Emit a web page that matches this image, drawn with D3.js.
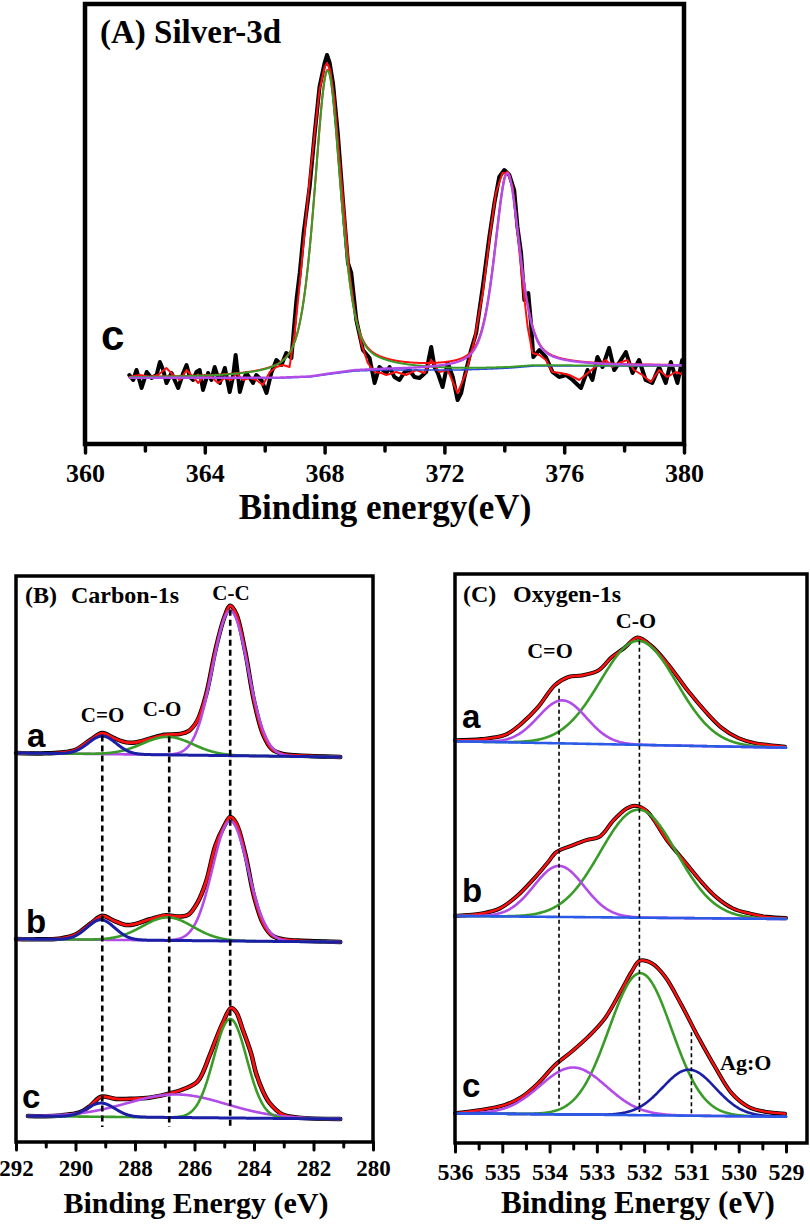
<!DOCTYPE html>
<html><head><meta charset="utf-8">
<script src="https://cdn.jsdelivr.net/npm/d3@7"></script>
<style>body{margin:0;background:#fff}svg{display:block}</style>
</head><body>
<svg id="chart" width="810" height="1224"></svg>
<script>
// ================= DATA =================
// Panel A : Silver-3d (sample c)
const ticksA = [360, 364, 368, 372, 376, 380];
const minorTicksA = [362, 366, 370, 374, 378];
// measured spectrum [binding energy, intensity a.u.]
const blackA = [[361.48,5],[361.61,0],[361.72,10],[361.89,-8],[362.06,8],[362.22,2],[362.39,5],[362.5,18],[362.61,10],[362.72,-3],[362.89,7],[363.11,-8],[363.28,7],[363.39,15],[363.5,3],[363.61,0],[363.72,8],[363.83,10],[363.94,-10],[364.11,7],[364.22,0],[364.33,13],[364.5,-3],[364.67,12],[364.83,-12],[364.94,3],[365.03,25],[365.17,-12],[365.28,0],[365.39,7],[365.5,2],[365.61,-3],[365.72,5],[365.89,0],[366.06,-13],[366.22,7],[366.39,20],[366.56,15],[366.72,27],[366.89,22],[367.06,80],[367.17,107],[367.3,147],[367.5,193],[367.67,247],[367.83,293],[368.0,317],[368.08,325],[368.17,317],[368.28,297],[368.44,247],[368.61,180],[368.78,117],[368.89,107],[369.06,60],[369.28,30],[369.5,22],[369.67,-3],[369.83,13],[370.06,7],[370.17,13],[370.33,3],[370.5,0],[370.67,8],[370.83,10],[371.0,3],[371.17,2],[371.39,8],[371.56,33],[371.67,13],[371.78,7],[371.94,-7],[372.11,17],[372.28,3],[372.44,-20],[372.56,-13],[372.67,3],[372.89,30],[373.06,47],[373.28,93],[373.5,143],[373.67,177],[373.83,203],[374.0,210],[374.17,205],[374.33,190],[374.44,153],[374.56,127],[374.67,80],[374.8,87],[374.89,57],[374.97,23],[375.17,30],[375.39,23],[375.61,8],[375.83,3],[376.06,5],[376.28,0],[376.56,-8],[376.78,10],[376.94,0],[377.11,23],[377.28,13],[377.5,32],[377.67,10],[377.83,17],[378.06,28],[378.28,7],[378.5,20],[378.72,0],[378.94,-3],[379.17,13],[379.39,-3],[379.56,18],[379.78,-3],[379.94,20]];
// smoothed spectrum (red)
const redA = [[361.48,3],[361.83,5],[362.17,3],[362.44,5],[362.72,12],[362.94,5],[363.17,0],[363.39,10],[363.61,3],[363.78,-3],[364.0,5],[364.22,3],[364.44,-3],[364.67,2],[364.89,0],[365.06,7],[365.28,0],[365.5,2],[365.72,0],[365.94,-5],[366.17,8],[366.39,13],[366.61,15],[366.83,13],[367.0,47],[367.17,97],[367.33,147],[367.5,200],[367.67,247],[367.83,290],[368.0,313],[368.08,317],[368.19,310],[368.33,280],[368.5,220],[368.67,163],[368.83,107],[369.0,70],[369.22,37],[369.44,17],[369.67,8],[369.89,7],[370.06,5],[370.39,8],[370.72,5],[371.06,10],[371.33,7],[371.56,20],[371.83,8],[372.11,10],[372.44,-13],[372.72,7],[373.0,40],[373.28,87],[373.5,140],[373.72,187],[373.94,207],[374.11,207],[374.28,193],[374.44,147],[374.61,97],[374.78,53],[374.94,27],[375.17,25],[375.39,20],[375.61,8],[375.89,7],[376.17,5],[376.5,0],[376.83,8],[377.11,15],[377.39,20],[377.61,13],[377.83,17],[378.11,20],[378.33,10],[378.61,5],[378.89,-2],[379.17,10],[379.44,3],[379.72,8],[380.0,5]];
// Shirley background (blue)
const bgA_E = [361.5, 366.5, 367.5, 368.2, 369.0, 370.0, 372.5, 373.5, 374.2, 375.0, 380.0];
const bgA_I = [2, 2, 3, 6, 9, 10, 10, 11, 12, 14, 14];
// fitted peaks (pseudo-Voigt): centre, height, FWHM
const peaksA = [
  {name: "Ag 3d5/2", c: 368.1, h: 304, w: 1.05, color: "green"},
  {name: "Ag 3d3/2", c: 374.1, h: 195, w: 1.0, color: "purple"}
];
const etaA = 0.5;

// Panel B : Carbon-1s
const ticksB = [292, 290, 288, 286, 284, 282, 280];
const minorTicksB = [291, 289, 287, 285, 283, 281];
const samplesB = ["a", "b", "c"];
const rangeB = [[292, 281.1], [292, 281.1], [291.6, 281.1]];
const baselineB = [[389, 385], [203, 200], [26, 23]];
const peaksB = [
  [{c: 284.8, h: 145, w: 1.4, color: "purple"}, {c: 286.9, h: 18, w: 2.0, color: "green"}, {c: 289.1, h: 18, w: 1.1, color: "navy"}],
  [{c: 284.8, h: 120, w: 1.4, color: "purple"}, {c: 286.9, h: 23, w: 2.0, color: "green"}, {c: 289.15, h: 20, w: 1.1, color: "navy"}],
  [{c: 286.6, h: 23, w: 3.9, color: "purple"}, {c: 284.8, h: 99, w: 1.3, color: "green"}, {c: 289.14, h: 13.7, w: 1.1, color: "navy"}]
];
// measured spectra (black); the fit envelope (red) overlaps them
const blackB = [
  [[292,0],[291,0],[290.5,1],[290,4],[289.5,14],[289.1,21],[288.7,16],[288.3,12],[288,12],[287.5,16],[287,20],[286.5,21],[286.2,24],[285.9,35],[285.6,62],[285.3,105],[285,138],[284.8,150],[284.6,142],[284.3,105],[284,55],[283.7,22],[283.4,7],[283,2],[282.5,1],[281.1,0]],
  [[292,0],[291,0],[290.5,1],[290,5],[289.5,16],[289.1,24],[288.7,19],[288.3,15],[288,16],[287.5,21],[287,25],[286.5,24],[286.2,26],[285.9,38],[285.6,60],[285.3,95],[285,115],[284.8,124],[284.6,118],[284.3,88],[284,45],[283.7,18],[283.4,6],[283,2],[282.5,1],[281.1,0]],
  [[291.6,0],[291,0],[290.5,1],[290,3],[289.76,5.5],[289.5,11],[289.14,20],[288.64,18],[288.08,18.3],[287.52,19.5],[286.96,23],[286.4,28],[285.89,36.5],[285.5,61.6],[285.3,77],[285.05,95],[284.77,110],[284.6,106],[284.38,88.6],[284.1,65],[283.93,45],[283.7,27],[283.48,15.5],[283.04,4],[282.5,1],[281.1,0]]
];
const dashB = [289.1, 286.85, 284.8];
const dashBottomB = 15;

// Panel C : Oxygen-1s
const ticksC = [536, 535, 534, 533, 532, 531, 530, 529];
const minorTicksC = [535.5, 534.5, 533.5, 532.5, 531.5, 530.5, 529.5];
const samplesC = ["a", "b", "c"];
const rangeC = [536, 529];
const baselineC = [[401.7, 395.3], [227, 224], [29.7, 26.3]];
const peaksC = [
  [{c: 532.12, h: 104, w: 1.9, color: "green"}, {c: 533.73, h: 43, w: 1.2, color: "purple"}],
  [{c: 532.12, h: 108, w: 1.9, color: "green"}, {c: 533.8, h: 51, w: 1.25, color: "purple"}],
  [{c: 532.08, h: 142, w: 1.56, color: "green"}, {c: 533.5, h: 47, w: 1.65, color: "purple"}, {c: 531.05, h: 46, w: 1.32, color: "navy"}]
];
const blackC = [
  [[536,1],[535.44,2.7],[534.94,7.3],[534.59,19.2],[534.24,36],[533.89,58],[533.6,66.5],[533.32,68.3],[532.97,73.5],[532.69,87],[532.41,97],[532.14,107.4],[531.84,99],[531.49,81],[531.07,54.7],[530.71,35],[530.36,18.6],[530.01,8.8],[529.66,4],[529.02,1]],
  [[536,0],[535.4,3],[535.05,8],[534.7,20],[534.35,37],[534.06,53],[533.85,65],[533.5,72],[533.22,77],[532.93,81],[532.65,97],[532.37,109],[532.2,112],[531.95,107],[531.52,78],[531.17,58],[530.82,38],[530.47,21],[530.12,10],[529.76,5],[529.41,2],[529,1]],
  [[536,0],[535.3,5],[534.94,9],[534.59,17],[534.24,31],[533.89,49],[533.53,63],[533.18,78],[532.83,96.5],[532.48,125],[532.27,143],[532.09,154.5],[531.84,152],[531.56,139],[531.21,110.6],[530.86,79],[530.5,49],[530.15,23],[529.8,9.6],[529.45,4.8],[529.02,3]]
];
const dashC = [533.8, 532.1, 531.0];
const dashFromC = [0, 0, 2];          // spectrum whose envelope sets the top
const dashBottomC = [36, 31, 27];

// ================= DRAWING =================
const SERIF = '"Liberation Serif","Times New Roman",serif';
const SANS = '"Liberation Sans",Arial,sans-serif';
const COL = {black: "#000", red: "#ff1010", green: "#3a9c28", purple: "#b24ce8", navy: "#1a1fa6", blue: "#2b5ae6", blueA: "#2a4ed8"};
const svg = d3.select("#chart");

function pv(E, p, eta) {
  const t = (E - p.c) / p.w;
  return p.h * (eta / (1 + 4 * t * t) + (1 - eta) * Math.exp(-4 * Math.LN2 * t * t));
}
function grid(a, b, step) {
  const n = Math.max(1, Math.round(Math.abs(b - a) / step));
  return d3.range(n + 1).map(i => a + (b - a) * i / n);
}
function path(data, x, y, color, width, curve) {
  return svg.append("path").datum(data)
    .attr("fill", "none").attr("stroke", color).attr("stroke-width", width)
    .attr("stroke-linejoin", "round").attr("stroke-linecap", "round")
    .attr("d", d3.line().x(d => x(d[0])).y(d => y(d[1])).curve(curve || d3.curveLinear));
}
function drawAxis(yPos, scale, major, minor, o) {
  const gMin = svg.append("g").attr("transform", `translate(0,${yPos})`)
    .call(d3.axisBottom(scale).tickValues(minor).tickSize(o.minorLen).tickFormat(""));
  gMin.select(".domain").remove();
  gMin.selectAll("line").attr("stroke", "#000").attr("stroke-width", o.sw).attr("stroke-linecap", "round");
  const gMaj = svg.append("g").attr("transform", `translate(0,${yPos})`)
    .call(d3.axisBottom(scale).tickValues(major).tickSize(o.majorLen).tickFormat(d3.format("d")));
  gMaj.select(".domain").remove();
  gMaj.selectAll("line").attr("stroke", "#000").attr("stroke-width", o.sw).attr("stroke-linecap", "round");
  gMaj.selectAll("text").attr("y", o.labelY).attr("dy", null)
    .attr("font-size", o.fs).attr("font-family", SERIF).attr("font-weight", "bold").attr("fill", "#000");
}
function text(str, x, y, size, family, anchor) {
  return svg.append("text").attr("x", x).attr("y", y).attr("font-size", size)
    .attr("font-family", family).attr("font-weight", "bold").attr("fill", "#000")
    .attr("text-anchor", anchor || "start").text(str);
}
function frame(x, y, sw, xr) {
  svg.append("rect").attr("x", x.range()[0]).attr("y", y.range()[1])
    .attr("width", (xr || x.range()[1]) - x.range()[0]).attr("height", y.range()[0] - y.range()[1])
    .attr("fill", "none").attr("stroke", "#000").attr("stroke-width", sw);
}

// ---------- Panel A ----------
{
  const x = d3.scaleLinear().domain([360, 380]).range([85, 684]);
  const y = d3.scaleLinear().domain([-64, 376]).range([444, 4]);
  const bg = d3.scaleLinear().domain(bgA_E).range(bgA_I).clamp(true);
  const E = grid(361.5, 380, 0.02);
  path(blackA, x, y, COL.black, 4);
  path(redA, x, y, COL.red, 2);
  path(E.map(e => [e, bg(e) + d3.sum(peaksA, p => pv(e, p, etaA))]), x, y, COL.red, 2, d3.curveBasis);
  path(E.map(e => [e, bg(e)]), x, y, COL.blueA, 1.6, d3.curveBasis);
  peaksA.forEach(p => path(E.map(e => [e, bg(e) + pv(e, p, etaA)]), x, y, COL[p.color], p.color === "purple" ? 2.4 : 2, d3.curveBasis));
  frame(x, y, 4.5);
  drawAxis(444, x, ticksA, minorTicksA, {majorLen: 9, minorLen: 7, sw: 3.5, labelY: 38, fs: 26});
  text("(A) Silver-3d", 100, 43, 33, SERIF);
  text("c", 101, 350, 42, SANS);
  text("Binding energy(eV)", 385, 519, 35, SERIF, "middle");
}

// ---------- Panel B ----------
{
  const x = d3.scaleLinear().domain([292, 280]).range([16, 373]);
  const y = d3.scaleLinear().domain([0, 566]).range([1142, 576]);
  const envelopes = [];
  samplesB.forEach((s, i) => {
    const [e0, e1] = rangeB[i];
    const base = d3.scaleLinear().domain([292, 281.1]).range(baselineB[i]);
    const E = grid(e0, e1, 0.02);
    const env = e => base(e) + d3.sum(peaksB[i], p => pv(e, p, 0));
    envelopes.push(env);
    const meas = blackB[i].map(d => [d[0], base(d[0]) + d[1]]);
    path(meas, x, y, COL.black, 4.5, d3.curveCatmullRom);
    path(meas, x, y, COL.red, 2.8, d3.curveCatmullRom);
    ["purple", "green", "navy"].forEach(cname => {
      const p = peaksB[i].find(q => q.color === cname);
      path(E.map(e => [e, base(e) + pv(e, p, 0)]), x, y, COL[cname], cname === "navy" ? 3 : 2.6);
    });
  });
  dashB.forEach(e => {
    svg.append("line").attr("x1", x(e)).attr("x2", x(e))
      .attr("y1", y(envelopes[0](e))).attr("y2", y(dashBottomB))
      .attr("stroke", "#000").attr("stroke-width", 2.6).attr("stroke-dasharray", "6,4");
  });
  frame(x, y, 3.5);
  drawAxis(1142, x, ticksB, minorTicksB, {majorLen: 8, minorLen: 5, sw: 3, labelY: 34, fs: 23});
  text("(B)", 25, 603, 24, SERIF);
  text("Carbon-1s", 71, 603, 24, SERIF);
  text("C=O", 102.5, 722, 21, SERIF, "middle");
  text("C-O", 162, 716, 21, SERIF, "middle");
  text("C-C", 231, 600, 21, SERIF, "middle");
  text("a", 27, 747, 33, SANS);
  text("b", 26, 933, 33, SANS);
  text("c", 22, 1108, 33, SANS);
  text("Binding Energy (eV)", 196, 1213, 30, SERIF, "middle");
}

// ---------- Panel C ----------
{
  const x = d3.scaleLinear().domain([536, 529]).range([455, 786]);
  const y = d3.scaleLinear().domain([0, 569]).range([1143, 574]);
  const envelopes = [];
  samplesC.forEach((s, i) => {
    const base = d3.scaleLinear().domain(rangeC).range(baselineC[i]);
    const E = grid(rangeC[0], rangeC[1], 0.02);
    const env = e => base(e) + d3.sum(peaksC[i], p => pv(e, p, 0));
    envelopes.push(env);
    const meas = blackC[i].map(d => [d[0], base(d[0]) + d[1]]);
    path(meas, x, y, COL.black, 4, d3.curveCatmullRom);
    path(meas, x, y, COL.red, 2.4, d3.curveCatmullRom);
    peaksC[i].forEach(p => path(E.map(e => [e, base(e) + pv(e, p, 0)]), x, y, COL[p.color], 2.6));
    path(E.map(e => [e, base(e)]), x, y, COL.blue, 2.6);
  });
  dashC.forEach((e, k) => {
    svg.append("line").attr("x1", x(e)).attr("x2", x(e))
      .attr("y1", y(envelopes[dashFromC[k]](e))).attr("y2", y(dashBottomC[k]))
      .attr("stroke", "#000").attr("stroke-width", 1.6).attr("stroke-dasharray", "4,3");
  });
  frame(x, y, 3.5, 807);
  drawAxis(1143, x, ticksC, minorTicksC, {majorLen: 9, minorLen: 6, sw: 3, labelY: 37, fs: 24});
  text("(C)", 463, 602, 24, SERIF);
  text("Oxygen-1s", 513, 602, 24, SERIF);
  text("C-O", 636, 628, 22, SERIF, "middle");
  text("C=O", 550, 658, 22, SERIF, "middle");
  text("Ag:O", 720, 1070, 22, SERIF);
  text("a", 462, 728, 33, SANS);
  text("b", 462, 902, 33, SANS);
  text("c", 462, 1097, 33, SANS);
  text("Binding Energy (eV)", 638, 1213, 31, SERIF, "middle");
}
</script>
</body></html>
